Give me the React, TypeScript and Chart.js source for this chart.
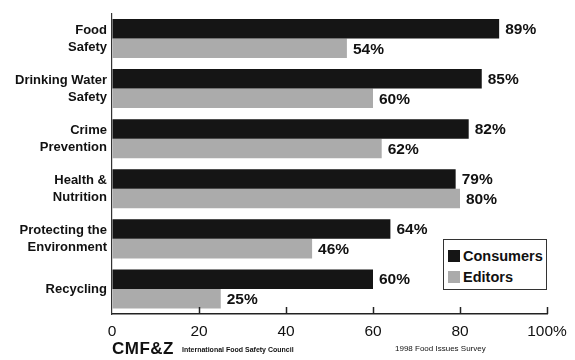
import React, { useEffect, useRef } from "react";
import { Chart, registerables } from "chart.js";

Chart.register(...registerables);

const categories: (string | string[])[] = [
  ["Food", "Safety"],
  ["Drinking Water", "Safety"],
  ["Crime", "Prevention"],
  ["Health &", "Nutrition"],
  ["Protecting the", "Environment"],
  ["Recycling"],
];
const consumers = [89, 85, 82, 79, 64, 60];
const editors = [54, 60, 62, 80, 46, 25];
const xTicks = [0, 20, 40, 60, 80, 100];
const seriesNames = ["Consumers", "Editors"];

const FONT = "'Liberation Sans', Arial, Helvetica, sans-serif";
const DARK = "#151515";
const LIGHT = "#ababab";

const valueLabels = {
  id: "valueLabels",
  afterDatasetsDraw(chart: any) {
    const ctx = chart.ctx;
    ctx.save();
    ctx.font = `bold 15.5px ${FONT}`;
    ctx.fillStyle = "#111";
    ctx.textAlign = "left";
    ctx.textBaseline = "middle";
    chart.data.datasets.forEach((ds: any, di: number) => {
      const meta = chart.getDatasetMeta(di);
      meta.data.forEach((el: any, i: number) => {
        ctx.fillText(`${ds.data[i]}%`, el.x + 6, el.y + 1);
      });
    });
    ctx.restore();
  },
};

const axisTicks = {
  id: "axisTicks",
  afterDraw(chart: any) {
    const ctx = chart.ctx;
    const xs = chart.scales.x;
    const bottom = chart.chartArea.bottom;
    ctx.save();
    ctx.strokeStyle = "#222";
    ctx.lineWidth = 1.5;
    xTicks.forEach((v) => {
      if (v === 0) return;
      const x = Math.round(xs.getPixelForValue(v)) + 0.5;
      ctx.beginPath();
      ctx.moveTo(x, bottom - 7);
      ctx.lineTo(x, bottom);
      ctx.stroke();
    });
    ctx.restore();
  },
};

export default function App() {
  const ref = useRef<HTMLCanvasElement | null>(null);

  useEffect(() => {
    document.body.style.margin = "0";
    if (!ref.current) return;
    const chart = new Chart(ref.current, {
      type: "bar",
      data: {
        labels: categories,
        datasets: [
          {
            label: seriesNames[0],
            data: consumers,
            backgroundColor: DARK,
            categoryPercentage: 0.78,
            barPercentage: 1.0,
          },
          {
            label: seriesNames[1],
            data: editors,
            backgroundColor: LIGHT,
            categoryPercentage: 0.78,
            barPercentage: 1.0,
          },
        ],
      },
      options: {
        indexAxis: "y",
        animation: false,
        responsive: true,
        maintainAspectRatio: false,
        layout: { padding: { top: 8, right: 28, left: 0, bottom: 0 } },
        plugins: {
          legend: { display: false },
          tooltip: { enabled: false },
        },
        scales: {
          x: {
            min: 0,
            max: 100,
            afterBuildTicks: (scale: any) => {
              scale.ticks = xTicks.map((v) => ({ value: v }));
            },
            afterFit: (scale: any) => {
              scale.height = 46;
            },
            ticks: {
              color: "#111",
              font: { family: FONT, size: 15.5 },
              padding: 8,
              maxRotation: 0,
              callback: (v: any) => (Number(v) === 100 ? "100%" : String(v)),
            },
            grid: { display: true, drawOnChartArea: false, drawTicks: false },
            border: { display: true, color: "#222", width: 1.5 },
          },
          y: {
            afterFit: (scale: any) => {
              scale.width = 112;
            },
            ticks: {
              color: "#111",
              font: { family: FONT, size: 13, weight: "bold", lineHeight: 1.3 },
              padding: 5,
              crossAlign: "near",
            },
            grid: { display: false, drawTicks: false },
            border: { display: true, color: "#333", width: 1.2 },
          },
        },
      } as any,
      plugins: [valueLabels, axisTicks],
    });
    return () => chart.destroy();
  }, []);

  const legendItem = (color: string, text: string) => (
    <div style={{ display: "flex", alignItems: "center", height: 21 }}>
      <div style={{ width: 12, height: 12, background: color, marginRight: 3 }} />
      <span style={{ fontFamily: FONT, fontSize: 14.5, fontWeight: "bold", color: "#111" }}>{text}</span>
    </div>
  );

  return (
    <div style={{ position: "absolute", left: 0, top: 0, width: 575, height: 360, background: "#fff" }}>
      <canvas ref={ref} />
      <div
        style={{
          position: "absolute",
          left: 443,
          top: 239,
          width: 104,
          height: 51,
          border: "1px solid #333",
          background: "#fff",
          padding: "5px 0 0 4px",
          boxSizing: "border-box",
        }}
      >
        {legendItem(DARK, seriesNames[0])}
        {legendItem(LIGHT, seriesNames[1])}
      </div>
      <div
        style={{
          position: "absolute",
          left: 112,
          top: 340,
          fontFamily: FONT,
          fontWeight: "bold",
          fontSize: 17,
          letterSpacing: 0.5,
          color: "#111",
          lineHeight: "18px",
        }}
      >
        CMF&amp;Z
      </div>
      <div
        style={{
          position: "absolute",
          left: 182,
          top: 345,
          fontFamily: FONT,
          fontSize: 7,
          fontWeight: "bold",
          color: "#111",
          lineHeight: "9px",
        }}
      >
        International Food Safety Council
      </div>
      <div
        style={{
          position: "absolute",
          left: 395,
          top: 344,
          fontFamily: FONT,
          fontSize: 8,
          color: "#111",
          lineHeight: "10px",
        }}
      >
        1998 Food Issues Survey
      </div>
    </div>
  );
}
